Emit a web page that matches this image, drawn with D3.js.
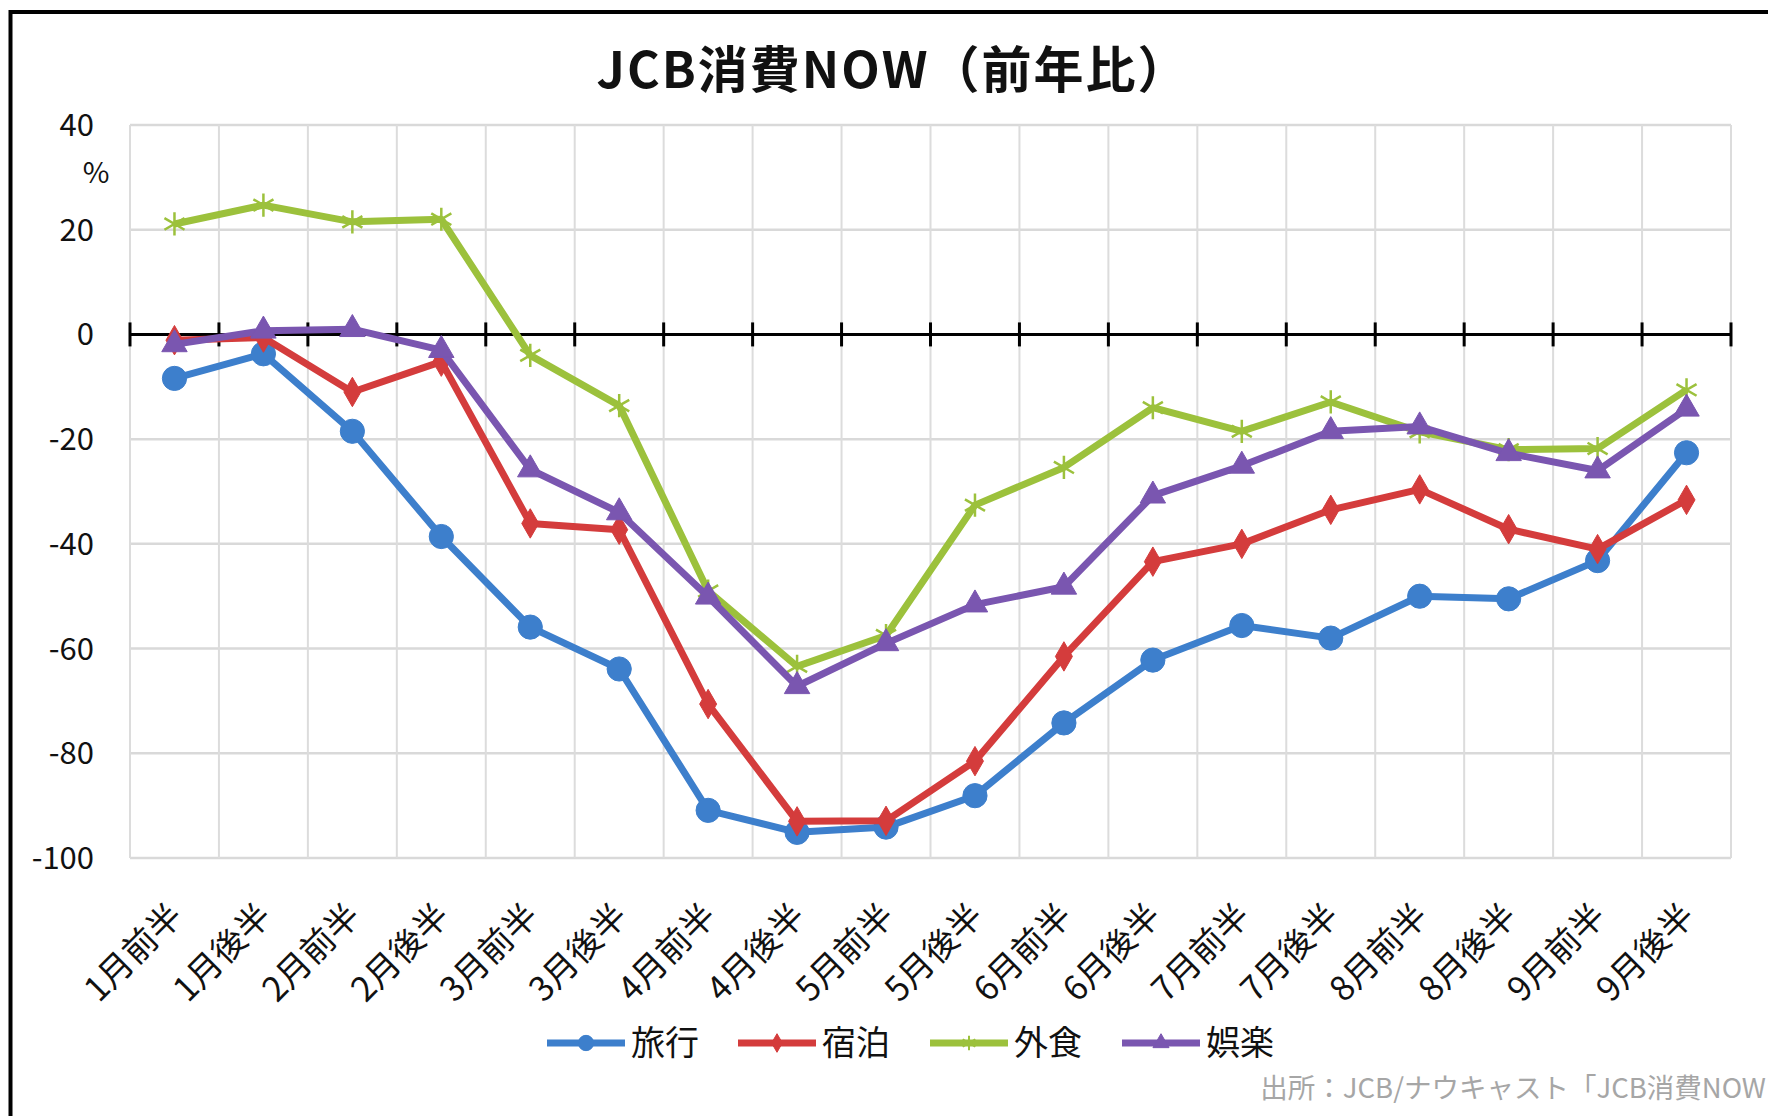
<!DOCTYPE html>
<html>
<head>
<meta charset="utf-8">
<script src="https://cdn.jsdelivr.net/npm/d3@7/dist/d3.min.js"></script>
<style>
  html, body { margin: 0; padding: 0; background: #ffffff; }
  svg { display: block; }
  text { font-family: "Noto Sans CJK JP", "Noto Sans", sans-serif; }
</style>
</head>
<body>
<svg id="chart" width="1768" height="1116"></svg>
<script>
const categories = ["1月前半","1月後半","2月前半","2月後半","3月前半","3月後半","4月前半","4月後半","5月前半","5月後半","6月前半","6月後半","7月前半","7月後半","8月前半","8月後半","9月前半","9月後半"];
const travel    = [-8.4, -3.7, -18.5, -38.6, -55.9, -63.9, -90.9, -95.1, -94.1, -88.1, -74.2, -62.2, -55.6, -58.0, -50.0, -50.5, -43.2, -22.6];
const lodging   = [-1.1, -0.6, -11.0, -5.2, -36.1, -37.3, -70.6, -93.0, -92.9, -81.5, -61.5, -43.4, -40.0, -33.5, -29.6, -37.2, -41.0, -31.6];
const dining    = [21.1, 24.7, 21.5, 22.0, -4.0, -13.6, -49.0, -63.4, -57.5, -32.6, -25.4, -14.0, -18.5, -12.9, -18.6, -22.0, -21.8, -10.6];
const leisure   = [-1.9, 0.7, 1.0, -3.0, -25.8, -34.0, -50.1, -67.2, -59.0, -51.6, -48.2, -30.8, -25.1, -18.5, -17.6, -22.7, -26.0, -14.2];
const seriesNames = ["旅行","宿泊","外食","娯楽"];
const yTicks = [40, 20, 0, -20, -40, -60, -80, -100];
const titleText = "JCB消費NOW（前年比）";
const unitText = "%";
const sourceText = "出所：JCB/ナウキャスト「JCB消費NOW";

const colors = ["#3d7fcc", "#d43c3c", "#9cc13c", "#7a56b0"];
const seriesValues = [travel, lodging, dining, leisure];
const symbols = [d3.symbolCircle, d3.symbolDiamond, d3.symbolAsterisk, d3.symbolTriangle];
const symbolSizes = [460, 250, 380, 280];
const symbolStroked = [false, false, true, false];

const svg = d3.select("#chart");
const W = 1768, H = 1116;
const plot = { left: 130, right: 1731, top: 125, bottom: 858 };

const x = d3.scaleBand().domain(categories).range([plot.left, plot.right]).padding(0);
const y = d3.scaleLinear().domain([-100, 40]).range([plot.bottom, plot.top]);
const cx = c => x(c) + x.bandwidth() / 2;

svg.append("rect").attr("x", 0).attr("y", 0).attr("width", W).attr("height", H).attr("fill", "#ffffff");

// frame
svg.append("rect").attr("x", 10.5).attr("y", 12).attr("width", 1900).attr("height", 1300)
  .attr("fill", "none").attr("stroke", "#000").attr("stroke-width", 4);

// gridlines
const grid = svg.append("g");
grid.selectAll("line.h").data(yTicks).enter().append("line")
  .attr("x1", plot.left).attr("x2", plot.right)
  .attr("y1", d => y(d)).attr("y2", d => y(d))
  .attr("stroke", "#d9d9d9").attr("stroke-width", 2.5);
const boundaries = categories.map(c => x(c)).concat([x(categories[categories.length - 1]) + x.bandwidth()]);
grid.selectAll("line.v").data(boundaries).enter().append("line")
  .attr("x1", d => d).attr("x2", d => d)
  .attr("y1", plot.top).attr("y2", plot.bottom)
  .attr("stroke", "#dcdcdc").attr("stroke-width", 2);

// y axis labels
const yAxis = d3.axisLeft(y).tickValues(yTicks).tickFormat(d => String(d)).tickSize(0).tickPadding(0);
const yg = svg.append("g").attr("transform", `translate(${94},0)`).call(yAxis);
yg.select(".domain").remove();
yg.selectAll("text").attr("font-size", 31).attr("fill", "#111")
  .attr("font-family", "'Noto Sans', sans-serif").attr("dy", "0.34em");

svg.append("text").attr("x", 96).attr("y", 183).attr("text-anchor", "middle")
  .attr("font-size", 29).attr("fill", "#111").attr("font-family", "'Noto Sans', sans-serif")
  .text(unitText);

// zero axis with cross ticks
const zg = svg.append("g");
zg.append("line").attr("x1", plot.left).attr("x2", plot.right)
  .attr("y1", y(0)).attr("y2", y(0)).attr("stroke", "#000").attr("stroke-width", 3);
zg.selectAll("line.t").data(boundaries).enter().append("line")
  .attr("x1", d => d).attr("x2", d => d)
  .attr("y1", y(0) - 12).attr("y2", y(0) + 12)
  .attr("stroke", "#000").attr("stroke-width", 3);

// x labels
const xAxis = d3.axisBottom(x).tickSize(0).tickPadding(0);
const xg = svg.append("g").attr("transform", `translate(0,${plot.bottom})`).call(xAxis);
xg.select(".domain").remove();
xg.selectAll(".tick text")
  .attr("font-size", 34).attr("fill", "#111")
  .attr("text-anchor", "end")
  .attr("y", 0).attr("dy", 0)
  .attr("transform", "translate(10,60) rotate(-45)");

// title
svg.append("text").attr("x", 893).attr("y", 88).attr("text-anchor", "middle")
  .attr("font-size", 50).attr("font-weight", "bold").attr("letter-spacing", 2).attr("fill", "#111")
  .text(titleText);

// lines + markers
const line = d3.line().x((d, i) => cx(categories[i])).y(d => y(d));
seriesValues.forEach((vals, si) => {
  const g = svg.append("g");
  g.append("path").datum(vals).attr("d", line)
    .attr("fill", "none").attr("stroke", colors[si]).attr("stroke-width", 7)
    .attr("stroke-linejoin", "round");
  const sym = d3.symbol().type(symbols[si]).size(symbolSizes[si]);
  g.selectAll("path.m").data(vals).enter().append("path")
    .attr("d", sym)
    .attr("transform", (d, i) => `translate(${cx(categories[i])},${y(d)})`)
    .attr("fill", symbolStroked[si] ? "none" : colors[si])
    .attr("stroke", colors[si])
    .attr("stroke-width", symbolStroked[si] ? 2.5 : 1);
});

// legend
const legendX = [547, 738, 930, 1122];
const lg = svg.append("g");
seriesNames.forEach((name, si) => {
  const lx = legendX[si], ly = 1043;
  lg.append("line").attr("x1", lx).attr("x2", lx + 78).attr("y1", ly).attr("y2", ly)
    .attr("stroke", colors[si]).attr("stroke-width", 7);
  lg.append("path").attr("d", d3.symbol().type(symbols[si]).size(symbolSizes[si] * 0.4))
    .attr("transform", `translate(${lx + 39},${ly})`)
    .attr("fill", symbolStroked[si] ? "none" : colors[si])
    .attr("stroke", colors[si]).attr("stroke-width", symbolStroked[si] ? 2 : 1);
  lg.append("text").attr("x", lx + 84).attr("y", ly + 12)
    .attr("font-size", 34).attr("fill", "#111").text(name);
});

// source
svg.append("text").attr("x", 1766).attr("y", 1098).attr("text-anchor", "end")
  .attr("font-size", 27.5).attr("fill", "#a6a6a6").text(sourceText);
</script>
</body>
</html>
